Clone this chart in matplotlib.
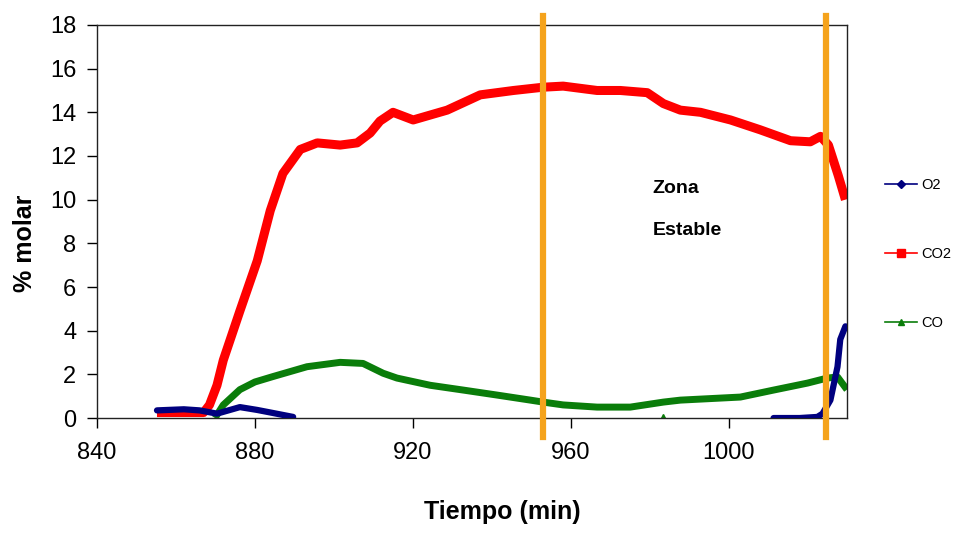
"""Gas composition vs time (O2, CO2, CO) with stable zone markers."""

import matplotlib
matplotlib.use("Agg")
import matplotlib.pyplot as plt
from matplotlib.lines import Line2D

# values
co2_t = [855.2, 867.0, 868.5, 870.4, 872.0, 876.2, 880.6, 883.9, 887.1, 891.5, 895.8,
         901.6, 905.9, 909.2, 911.7, 915.0, 920.1, 928.7, 937.1, 945.5, 953.0,
         958.1, 966.7, 972.6, 979.4, 983.5, 987.8, 992.9, 1000.5, 1008.0, 1015.7,
         1020.7, 1023.3, 1025.3, 1027.8, 1029.6]
co2_v = [0.25, 0.25, 0.6, 1.5, 2.65, 4.9, 7.2, 9.5, 11.2, 12.3, 12.6,
         12.5, 12.6, 13.05, 13.6, 14.0, 13.65, 14.1, 14.8, 15.0, 15.15,
         15.2, 15.0, 15.0, 14.9, 14.4, 14.1, 14.0, 13.65, 13.2, 12.7,
         12.65, 12.9, 12.5, 11.1, 10.0]

co_t = [869.9, 872.0, 876.2, 880.0, 884.6, 893.2, 901.6, 907.4, 912.5, 916.0,
        924.4, 932.8, 941.4, 949.8, 953.0, 958.1, 966.7, 975.1, 983.5, 987.8,
        1003.0, 1011.4, 1020.0, 1025.0, 1027.6, 1030.0]
co_v = [0.0, 0.6, 1.3, 1.65, 1.9, 2.35, 2.55, 2.5, 2.05, 1.83,
        1.5, 1.28, 1.05, 0.82, 0.73, 0.6, 0.5, 0.5, 0.73, 0.82,
        0.96, 1.28, 1.6, 1.83, 1.88, 1.3]
co_drop_t = [983.5]
co_drop_v = [0.0]

o2_t1 = [855.2, 862.0, 866.0, 870.4, 876.2, 880.6, 884.6, 889.7]
o2_v1 = [0.35, 0.4, 0.35, 0.2, 0.5, 0.37, 0.23, 0.05]
o2_t2 = [1011.4, 1018.0, 1022.5, 1023.8, 1025.8, 1027.6, 1028.3, 1029.6]
o2_v2 = [0.0, 0.0, 0.05, 0.2, 0.82, 2.35, 3.6, 4.2]

zone_limits = [953.0, 1024.6]

navy = "#00007F"
red = "#FF0000"
green = "#0A7D0A"
orange = "#F5A31C"

plt.rcParams["font.family"] = ["Liberation Sans", "DejaVu Sans"]

fig = plt.figure(figsize=(9.65, 5.36), dpi=100)
ax = fig.add_axes([0.1005, 0.2201, 0.7772, 0.7333])

ax.plot(o2_t1, o2_v1, color=navy, lw=4.5, solid_capstyle="round", zorder=3)
ax.plot(o2_t2, o2_v2, color=navy, lw=4.5, solid_capstyle="round", zorder=3)
ax.plot(co2_t, co2_v, color=red, lw=6.5, solid_capstyle="butt", zorder=2)
ax.plot(co_t, co_v, color=green, lw=5, solid_capstyle="butt", zorder=2)
ax.plot(co_drop_t, co_drop_v, ls="none", marker="^", color=green, ms=6, zorder=2)

for xz in zone_limits:
    ax.plot([xz, xz], [-0.87, 18.4], color=orange, lw=4.5, clip_on=False, zorder=4)

ax.text(980.7, 10.5, "Zona", fontsize=14, fontweight="bold", va="center")
ax.text(980.7, 8.6, "Estable", fontsize=14, fontweight="bold", va="center")

ax.set_xlim(840, 1030)
ax.set_ylim(0, 18)
ax.set_xticks([840, 880, 920, 960, 1000])
ax.set_yticks(range(0, 19, 2))
ax.tick_params(direction="out", length=7, width=1, labelsize=17, color="black")
ax.tick_params(axis="x", pad=10)
ax.tick_params(axis="y", pad=8)
for s in ax.spines.values():
    s.set_linewidth(1)
    s.set_color("#222222")

ax.set_xlabel("Tiempo (min)", fontsize=18, fontweight="bold")
ax.xaxis.set_label_coords(0.54, -0.209)
ax.set_ylabel("% molar", fontsize=18, fontweight="bold")
ax.yaxis.set_label_coords(-0.08, 0.445)

handles = [
    Line2D([], [], color=navy, lw=1.2, marker="D", ms=4),
    Line2D([], [], color=red, lw=1.2, marker="s", ms=6),
    Line2D([], [], color=green, lw=1.2, marker="^", ms=5),
]
fig.legend(handles, ["O2", "CO2", "CO"], loc="center left",
           bbox_to_anchor=(0.917, 0.526), frameon=False, fontsize=10.5,
           borderpad=0, borderaxespad=0,
           handlelength=2.2, handletextpad=0.3, labelspacing=3.8)

fig.savefig("out.png", dpi=100)
plt.close(fig)
